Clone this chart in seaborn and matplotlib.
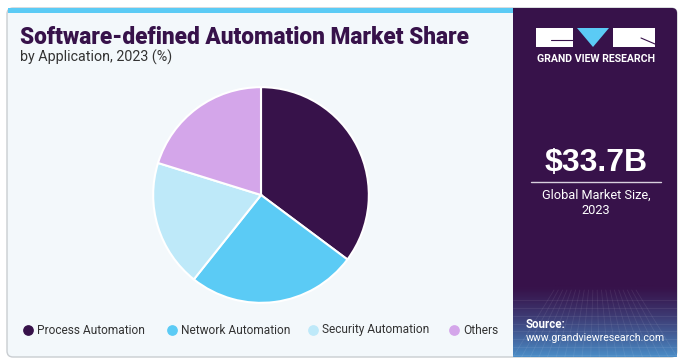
import matplotlib
matplotlib.use("Agg")
import numpy as np
import matplotlib.pyplot as plt
import seaborn as sns
from matplotlib.patches import FancyBboxPatch, Rectangle, Polygon

sns.set_style("white")
plt.rcParams["font.family"] = ["Roboto", "DejaVu Sans"]

# dados
categorias = ["Process Automation", "Network Automation", "Security Automation", "Others"]
valores = [35.2, 25.5, 19.1, 20.2]
cores = ["#37124A", "#5BCBF5", "#BEE9F9", "#D4A6EA"]
titulo = "Software-defined Automation Market Share"
subtitulo = "by Application, 2023 (%)"
tamanho_mercado = "$33.7B"
rotulo_mercado = "Global Market Size,\n2023"

W, H = 697, 361
fig = plt.figure(figsize=(W / 100, H / 100), dpi=100)
fig.patch.set_facecolor("white")

# camada de fundo em pixels
bg = fig.add_axes([0, 0, 1, 1])
bg.set_xlim(0, W)
bg.set_ylim(H, 0)
bg.axis("off")

bg.add_patch(FancyBboxPatch((7, 8), 670, 349, boxstyle="round,pad=0,rounding_size=6",
                            facecolor="#F3F8FB", edgecolor="#C9CDD1", lw=1))
bg.add_patch(Rectangle((8, 8), 505, 5, facecolor="#5BCBF5", lw=0))
bg.add_patch(FancyBboxPatch((513, 8), 164, 349, boxstyle="round,pad=0,rounding_size=5",
                            facecolor="#37124A", lw=0))
bg.add_patch(Rectangle((513, 8), 10, 349, facecolor="#37124A", lw=0))

# degradê no rodapé do painel escuro
grad = np.linspace(0, 1, 60)[:, None]
c0 = np.array([0x37, 0x12, 0x4A]) / 255
c1 = np.array([0x4A, 0x8C, 0xC6]) / 255
img = c0 + (c1 - c0) * grad[..., None] ** 1.3
img = np.repeat(img, 2, axis=1)
bg.imshow(img, extent=(513, 677, 357, 285), aspect="auto", zorder=1)
for yy in np.linspace(300, 355, 8):
    bg.plot([513, 677], [yy, yy], color="white", alpha=0.08, lw=0.6, zorder=2)
for xx in np.linspace(513, 677, 20):
    bg.plot([595 + (xx - 595) * 0.5, xx], [290, 357], color="white", alpha=0.08, lw=0.6, zorder=2)

# textos
bg.text(20, 38, titulo, fontsize=16.3, fontweight="black", color="#37124A",
        va="center", ha="left", fontstretch="condensed")
bg.text(20, 57, subtitulo, fontsize=10.3, color="#333333", va="center", ha="left")

# logo
bg.add_patch(Rectangle((536, 28), 37, 19, facecolor="white", lw=0, zorder=3))
bg.add_patch(Polygon([(577, 28), (609, 28), (593, 47)], facecolor="#5BCBF5", lw=0, zorder=3))
bg.add_patch(Rectangle((613, 28), 42, 19, facecolor="white", lw=0, zorder=3))
bg.plot([551, 573], [40, 40], color="#37124A", lw=0.8, zorder=4)
bg.plot([641, 655], [38, 44], color="#37124A", lw=0.8, zorder=4)
bg.text(596, 59, "GRAND VIEW RESEARCH", fontsize=7.6, fontweight="bold", color="white",
        ha="center", va="center", zorder=4)

bg.text(596, 163, tamanho_mercado, fontsize=23, fontweight="bold", color="white",
        ha="center", va="center", family=["Liberation Sans", "DejaVu Sans"], zorder=4)
bg.plot([531, 661], [182, 182], color="#D8D0DE", lw=1, zorder=4)
bg.text(596, 203, rotulo_mercado, fontsize=9.2, color="white", ha="center", va="center",
        linespacing=1.3, zorder=4)
bg.text(526, 324, "Source:", fontsize=8.3, fontweight="bold", color="white",
        ha="left", va="center", zorder=4)
bg.text(526, 338, "www.grandviewresearch.com", fontsize=7.6, color="white",
        ha="left", va="center", zorder=4)

# legenda
xs_marcador = [28, 172, 313, 454]
for x, cat, cor in zip(xs_marcador, categorias, cores):
    bg.scatter([x], [330], s=45, color=cor, zorder=4)
    bg.text(x + 9, 330, cat, fontsize=8.6, color="#333333", ha="left", va="center", zorder=4)

# pizza
cx, cy, r = 261, 195, 110
ax = fig.add_axes([(cx - r) / W, (H - cy - r) / H, 2 * r / W, 2 * r / H])
ax.pie(valores, colors=cores, startangle=90, counterclock=False, radius=1,
       wedgeprops=dict(edgecolor="white", linewidth=1.5))
ax.set_xlim(-1.02, 1.02)
ax.set_ylim(-1.02, 1.02)
ax.set_aspect("equal")
ax.axis("off")

fig.savefig("out.png", dpi=100, facecolor="white")
